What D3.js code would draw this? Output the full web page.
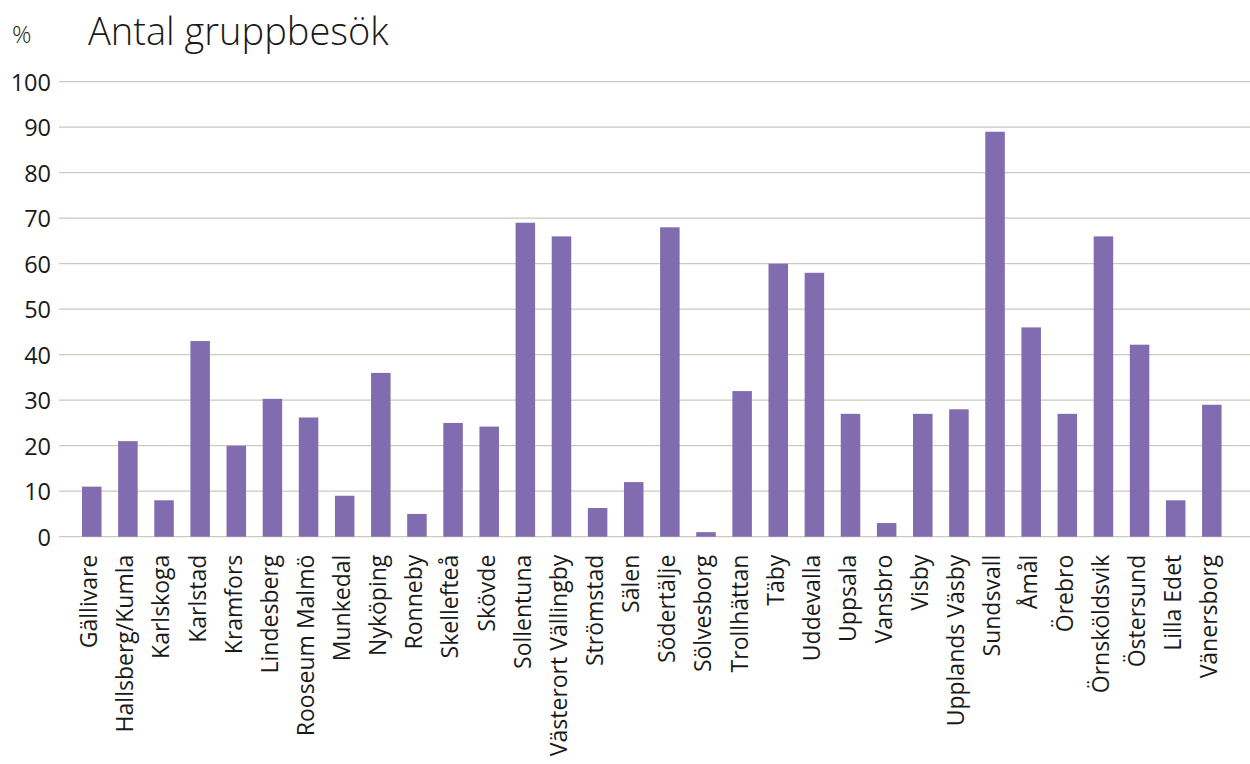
<!DOCTYPE html>
<html>
<head>
<meta charset="utf-8">
<script src="https://cdn.jsdelivr.net/npm/d3@7"></script>
<style>
  html, body { margin: 0; padding: 0; background: #fff; }
  svg { display: block; }
  text { font-family: "Open Sans", "DejaVu Sans", sans-serif; fill: #1a1a1a; }
</style>
</head>
<body>
<svg id="chart" width="1250" height="764"></svg>
<script>
const categories = [
  "Gällivare", "Hallsberg/Kumla", "Karlskoga", "Karlstad", "Kramfors",
  "Lindesberg", "Rooseum Malmö", "Munkedal", "Nyköping", "Ronneby",
  "Skellefteå", "Skövde", "Sollentuna", "Västerort Vällingby", "Strömstad",
  "Sälen", "Södertälje", "Sölvesborg", "Trollhättan", "Täby",
  "Uddevalla", "Uppsala", "Vansbro", "Visby", "Upplands Väsby",
  "Sundsvall", "Åmål", "Örebro", "Örnsköldsvik", "Östersund",
  "Lilla Edet", "Vänersborg"
];
const values = [
  11, 21, 8, 43, 20,
  30.3, 26.2, 9, 36, 5,
  25, 24.2, 69, 66, 6.3,
  12, 68, 1, 32, 60,
  58, 27, 3, 27, 28,
  89, 46, 27, 66, 42.2,
  8, 29
];
const yTicks = [0, 10, 20, 30, 40, 50, 60, 70, 80, 90, 100];
const title = "Antal gruppbesök";
const unitLabel = "%";

const svg = d3.select("#chart");
const gridLeft = 59, gridRight = 1250;

const x = d3.scaleBand()
  .domain(categories)
  .range([73.7, 1229.9])
  .paddingInner(0.46)
  .paddingOuter(0.23);

const y = d3.scaleLinear().domain([0, 100]).range([536.7, 81.7]);

// horizontal gridlines
svg.append("g")
  .selectAll("line")
  .data(yTicks)
  .join("line")
  .attr("x1", gridLeft)
  .attr("x2", gridRight)
  .attr("y1", d => y(d))
  .attr("y2", d => y(d))
  .attr("stroke", "#cfc9bc")
  .attr("stroke-width", 1.3);

// y tick labels
const yAxis = d3.axisLeft(y).tickValues(yTicks).tickSize(0).tickPadding(0);
const gy = svg.append("g").attr("transform", "translate(51,0)").call(yAxis);
gy.select(".domain").remove();
gy.selectAll("text")
  .attr("font-size", 23.5)
  .attr("font-family", null)
  .attr("fill", "#1a1a1a")
  .attr("dy", "0.36em");

// bars
svg.append("g")
  .selectAll("rect")
  .data(values)
  .join("rect")
  .attr("x", (d, i) => x(categories[i]))
  .attr("width", x.bandwidth())
  .attr("y", d => y(d))
  .attr("height", d => y(0) - y(d))
  .attr("fill", "#806cae");

// category labels
const xAxis = d3.axisBottom(x).tickSize(0).tickPadding(0);
const gx = svg.append("g").attr("transform", `translate(0,${y(0)})`).call(xAxis);
gx.select(".domain").remove();
gx.selectAll("text")
  .attr("font-size", 23)
  .attr("font-family", null)
  .attr("fill", "#1a1a1a")
  .attr("text-anchor", "end")
  .attr("transform", "rotate(-90)")
  .attr("x", -18)
  .attr("y", -2)
  .attr("dx", 0)
  .attr("dy", "0.32em");

// title and unit
svg.append("text")
  .attr("x", 88)
  .attr("y", 45)
  .attr("font-size", 38)
  .attr("font-weight", 300)
  .text(title);

svg.append("text")
  .attr("x", 12)
  .attr("y", 43)
  .attr("font-size", 24)
  .attr("font-weight", 300)
  .text(unitLabel);
</script>
</body>
</html>
